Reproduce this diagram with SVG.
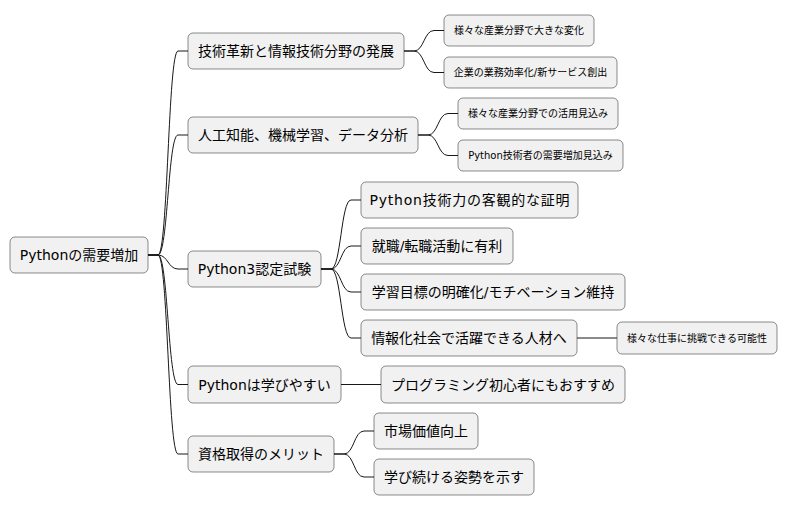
<svg xmlns="http://www.w3.org/2000/svg" width="788" height="511" viewBox="0 0 788 511">
<style>
.n{fill:#F1F1F1;stroke:#181818;stroke-width:0.5}
.t{font-family:"DejaVu Sans","Noto Sans CJK JP",sans-serif;font-size:14px;fill:#000;text-anchor:middle}
.s{font-family:"DejaVu Sans","Noto Sans CJK JP",sans-serif;font-size:10px;fill:#000;text-anchor:middle}
.c{fill:none;stroke:#181818;stroke-width:1}
</style>
<rect width="788" height="511" fill="#FFFFFF"/>
<g id="connectors">
<path class="c" d="M148,255 L158,255 C168,255 168,51 178,51 L188,51"/>
<path class="c" d="M148,255 L158,255 C168,255 168,135 178,135 L188,135"/>
<path class="c" d="M148,255 L158,255 C168,255 168,269 178,269 L188,269"/>
<path class="c" d="M148,255 L158,255 C168,255 168,384.5 178,384.5 L188,384.5"/>
<path class="c" d="M148,255 L158,255 C168,255 168,454 178,454 L188,454"/>
<path class="c" d="M404,51 L414,51 C424,51 424,30.5 434,30.5 L444,30.5"/>
<path class="c" d="M404,51 L414,51 C424,51 424,72.5 434,72.5 L444,72.5"/>
<path class="c" d="M418,135 L428,135 C438,135 438,113.5 448,113.5 L458,113.5"/>
<path class="c" d="M418,135 L428,135 C438,135 438,155.5 448,155.5 L458,155.5"/>
<path class="c" d="M321,269 L331,269 C341,269 341,200 351,200 L361,200"/>
<path class="c" d="M321,269 L331,269 C341,269 341,246 351,246 L361,246"/>
<path class="c" d="M321,269 L331,269 C341,269 341,292 351,292 L361,292"/>
<path class="c" d="M321,269 L331,269 C341,269 341,338 351,338 L361,338"/>
<path class="c" d="M577,338 L617,338"/>
<path class="c" d="M341,384.5 L381,384.5"/>
<path class="c" d="M334,454 L344,454 C354,454 354,431 364,431 L374,431"/>
<path class="c" d="M334,454 L344,454 C354,454 354,477 364,477 L374,477"/>
</g>
<g id="root"><rect class="n" x="10" y="237" width="138" height="36" rx="5"/><text class="t" x="79" y="260">Pythonの需要増加</text></g>
<g id="n1"><rect class="n" x="188" y="33" width="216" height="36" rx="5"/><text class="t" x="296" y="56">技術革新と情報技術分野の発展</text></g>
<g id="n1a"><rect class="n" x="444" y="15" width="150" height="31" rx="5"/><text class="s" x="519" y="34">様々な産業分野で大きな変化</text></g>
<g id="n1b"><rect class="n" x="444" y="57" width="173" height="31" rx="5"/><text class="s" x="530.5" y="76">企業の業務効率化/新サービス創出</text></g>
<g id="n2"><rect class="n" x="188" y="117" width="230" height="36" rx="5"/><text class="t" x="303" y="140">人工知能、機械学習、データ分析</text></g>
<g id="n2a"><rect class="n" x="458" y="98" width="160" height="31" rx="5"/><text class="s" x="538" y="117">様々な産業分野での活用見込み</text></g>
<g id="n2b"><rect class="n" x="458" y="140" width="165" height="31" rx="5"/><text class="s" x="540.5" y="159">Python技術者の需要増加見込み</text></g>
<g id="n3"><rect class="n" x="188" y="251" width="133" height="36" rx="5"/><text class="t" x="254.5" y="274">Python3認定試験</text></g>
<g id="n3a"><rect class="n" x="361" y="182" width="217" height="36" rx="5"/><text class="t" x="469.5" y="205" textLength="200" lengthAdjust="spacing">Python技術力の客観的な証明</text></g>
<g id="n3b"><rect class="n" x="361" y="228" width="152" height="36" rx="5"/><text class="t" x="437" y="251">就職/転職活動に有利</text></g>
<g id="n3c"><rect class="n" x="361" y="274" width="264" height="36" rx="5"/><text class="t" x="493" y="297">学習目標の明確化/モチベーション維持</text></g>
<g id="n3d"><rect class="n" x="361" y="320" width="216" height="36" rx="5"/><text class="t" x="469" y="343">情報化社会で活躍できる人材へ</text></g>
<g id="n3d1"><rect class="n" x="617" y="322" width="160" height="32" rx="5"/><text class="s" x="697" y="341.5">様々な仕事に挑戦できる可能性</text></g>
<g id="n4"><rect class="n" x="188" y="366" width="153" height="37" rx="5"/><text class="t" x="264.5" y="389.5">Pythonは学びやすい</text></g>
<g id="n4a"><rect class="n" x="381" y="366" width="244" height="37" rx="5"/><text class="t" x="503" y="389.5">プログラミング初心者にもおすすめ</text></g>
<g id="n5"><rect class="n" x="188" y="436" width="146" height="36" rx="5"/><text class="t" x="261" y="459">資格取得のメリット</text></g>
<g id="n5a"><rect class="n" x="374" y="413" width="104" height="36" rx="5"/><text class="t" x="426" y="436">市場価値向上</text></g>
<g id="n5b"><rect class="n" x="374" y="459" width="160" height="36" rx="5"/><text class="t" x="454" y="482">学び続ける姿勢を示す</text></g>
</svg>
